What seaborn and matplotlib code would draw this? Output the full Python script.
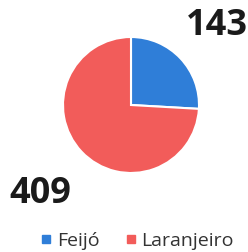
import matplotlib
matplotlib.use("Agg")
import matplotlib.pyplot as plt
import seaborn as sns
from matplotlib.lines import Line2D

categories = ["Feijó", "Laranjeiro"]
values = [143, 409]
colors = ["#2F7ED8", "#F25C5A"]

sns.set_theme(style="white")
plt.rcParams['font.family'] = ['Open Sans', 'DejaVu Sans']

fig = plt.figure(figsize=(2.48, 2.53), dpi=100)
# pie centered near (131, 106) px with radius 68 px
cx, cy, r = 131, 106, 68
W, H = 248, 253
ax = fig.add_axes([(cx - r) / W, 1 - (cy + r) / H, 2 * r / W, 2 * r / H])

wedges, texts = ax.pie(values, labels=[str(v) for v in values], colors=colors,
                       startangle=90, counterclock=False, labeldistance=1.74,
                       wedgeprops=dict(edgecolor="white", linewidth=1.5),
                       textprops=dict(fontsize=26, fontweight="bold", color="#1a1a1a"))
# small nudges (in pixels) so the value labels sit like the original
nudges = [(0, -3), (-5, 2)]
for t, (dx, dy) in zip(texts, nudges):
    x, y = t.get_position()
    t.set_position((x + dx / r, y - dy / r))
    t.set_ha("center")
    t.set_va("center_baseline")
ax.set_xlim(-1, 1)
ax.set_ylim(-1, 1)
ax.set_aspect("equal")
ax.axis("off")

handles = [Line2D([0], [0], marker="s", linestyle="", markersize=5.8,
                  markerfacecolor=c, markeredgecolor=c) for c in colors]
fig.legend(handles, categories, loc="center", bbox_to_anchor=(136 / W, 1 - 241.5 / H),
           ncol=2, frameon=False, fontsize=14, handletextpad=0.15,
           columnspacing=1.2, handlelength=0.8, labelcolor="#333333",
           borderpad=0, borderaxespad=0)

fig.savefig("out.png", dpi=100)
